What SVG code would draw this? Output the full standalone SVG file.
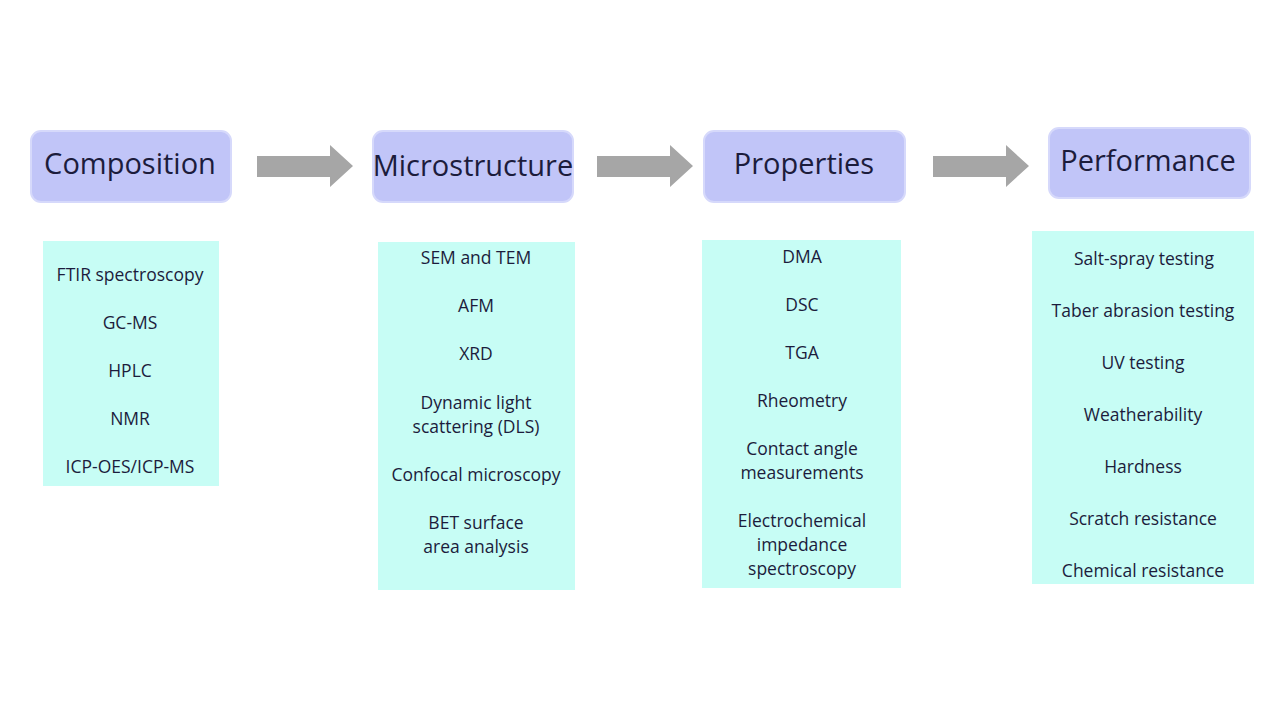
<svg xmlns="http://www.w3.org/2000/svg" width="1280" height="720" viewBox="0 0 1280 720">
<style>
.h{fill:#c1c5f8;stroke:#d6d9fb;stroke-width:2}
.ht{font-family:"Open Sans","Noto Sans",sans-serif;font-size:29px;fill:#1c1c3c;text-anchor:middle}
.l{fill:#c7fdf5}
.lt{font-family:"Open Sans","Noto Sans",sans-serif;font-size:17.5px;fill:#1c1c3c;text-anchor:middle}
.a{fill:#a6a6a6}
</style>
<rect width="1280" height="720" fill="#fff"/>
<g id="connectors">
<polygon class="a" points="257,156 330,156 330,145 353,166 330,187 330,177 257,177"/>
<polygon class="a" points="597,156 670,156 670,145 693,166 670,187 670,177 597,177"/>
<polygon class="a" points="933,156 1006,156 1006,145 1029,166 1006,187 1006,177 933,177"/>
</g>
<g id="composition"><rect class="h" x="31" y="131" width="200" height="71" rx="10"/><text class="ht" x="130" y="174">Composition</text></g>
<g id="microstructure"><rect class="h" x="373" y="131" width="200" height="71" rx="10"/><text class="ht" x="473" y="176">Microstructure</text></g>
<g id="properties"><rect class="h" x="704" y="131" width="201" height="71" rx="10"/><text class="ht" x="804" y="174">Properties</text></g>
<g id="performance"><rect class="h" x="1049" y="128" width="201" height="70" rx="10"/><text class="ht" x="1148" y="171">Performance</text></g>
<g id="composition-list"><rect class="l" x="43" y="241" width="176" height="245"/>
<text class="lt" x="130" y="281">FTIR spectroscopy</text><text class="lt" x="130" y="329">GC-MS</text><text class="lt" x="130" y="377">HPLC</text><text class="lt" x="130" y="425">NMR</text><text class="lt" x="130" y="473">ICP-OES/ICP-MS</text></g>
<g id="microstructure-list"><rect class="l" x="378" y="242" width="197" height="348"/>
<text class="lt" x="476" y="264">SEM and TEM</text><text class="lt" x="476" y="312">AFM</text><text class="lt" x="476" y="360">XRD</text><text class="lt" x="476" y="409">Dynamic light</text><text class="lt" x="476" y="433">scattering (DLS)</text><text class="lt" x="476" y="481">Confocal microscopy</text><text class="lt" x="476" y="529">BET surface</text><text class="lt" x="476" y="553">area analysis</text></g>
<g id="properties-list"><rect class="l" x="702" y="240" width="199" height="348"/>
<text class="lt" x="802" y="263">DMA</text><text class="lt" x="802" y="311">DSC</text><text class="lt" x="802" y="359">TGA</text><text class="lt" x="802" y="407">Rheometry</text><text class="lt" x="802" y="455">Contact angle</text><text class="lt" x="802" y="479">measurements</text><text class="lt" x="802" y="527">Electrochemical</text><text class="lt" x="802" y="551">impedance</text><text class="lt" x="802" y="575">spectroscopy</text></g>
<g id="performance-list"><rect class="l" x="1032" y="231" width="222" height="353"/>
<text class="lt" x="1144" y="265">Salt-spray testing</text><text class="lt" x="1143" y="317">Taber abrasion testing</text><text class="lt" x="1143" y="369">UV testing</text><text class="lt" x="1143" y="421">Weatherability</text><text class="lt" x="1143" y="473">Hardness</text><text class="lt" x="1143" y="525">Scratch resistance</text><text class="lt" x="1143" y="577">Chemical resistance</text></g>
</svg>
